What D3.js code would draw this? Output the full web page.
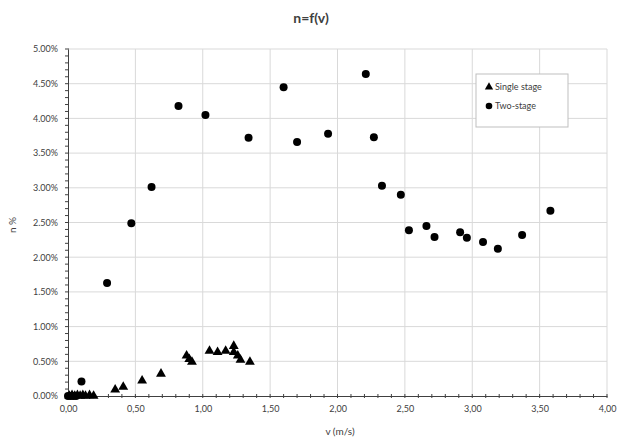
<!DOCTYPE html>
<html>
<head>
<meta charset="utf-8">
<script src="https://cdn.jsdelivr.net/npm/d3@7"></script>
<style>
body { margin: 0; background: #fff; }
text { font-family: Lato, "Open Sans", sans-serif; fill: #404040; }
</style>
</head>
<body>
<div id="chart"></div>
<script>
// data (v in m/s, n in %)
var singleV = [0.01, 0.03, 0.05, 0.07, 0.09, 0.11, 0.13, 0.16, 0.19, 0.35, 0.41, 0.55, 0.69, 0.88, 0.90, 0.92, 1.05, 1.11, 1.17, 1.23, 1.23, 1.26, 1.28, 1.35];
var singleN = [0.00, 0.01, 0.00, 0.01, 0.00, 0.01, 0.00, 0.01, 0.00, 0.09, 0.13, 0.22, 0.32, 0.58, 0.53, 0.49, 0.65, 0.63, 0.65, 0.72, 0.63, 0.58, 0.52, 0.49];
var twoV = [0.00, 0.02, 0.04, 0.06, 0.10, 0.29, 0.47, 0.62, 0.82, 1.02, 1.34, 1.60, 1.70, 1.93, 2.21, 2.27, 2.33, 2.47, 2.53, 2.66, 2.72, 2.91, 2.96, 3.08, 3.19, 3.37, 3.58];
var twoN = [0.00, 0.00, 0.00, 0.00, 0.21, 1.63, 2.49, 3.01, 4.18, 4.05, 3.72, 4.45, 3.66, 3.78, 4.64, 3.73, 3.03, 2.90, 2.39, 2.45, 2.29, 2.36, 2.28, 2.22, 2.12, 2.32, 2.67];
var xTicks = [0, 0.5, 1, 1.5, 2, 2.5, 3, 3.5, 4];
var yTicks = [0, 0.5, 1, 1.5, 2, 2.5, 3, 3.5, 4, 4.5, 5];
var legendNames = ["Single stage", "Two-stage"];

var width = 619, height = 440;
var margin = {top: 49, right: 12, bottom: 44, left: 68};

var svg = d3.select("#chart").append("svg")
	.attr("width", width)
	.attr("height", height);

var x = d3.scaleLinear().domain([0, 4]).range([margin.left, width - margin.right]);
var y = d3.scaleLinear().domain([0, 5]).range([height - margin.bottom, margin.top]);

// gridlines
svg.append("g").selectAll("line")
	.data(xTicks.slice(1))
	.join("line")
	.attr("x1", d => x(d)).attr("x2", d => x(d))
	.attr("y1", y(0)).attr("y2", y(5))
	.attr("stroke", "#d9d9d9");
svg.append("g").selectAll("line")
	.data(yTicks.slice(1))
	.join("line")
	.attr("x1", x(0)).attr("x2", x(4))
	.attr("y1", d => y(d)).attr("y2", d => y(d))
	.attr("stroke", "#d9d9d9");

// axes
var fmtX = d => d3.format(".2f")(d).replace(".", ",");
var xAxis = svg.append("g")
	.attr("transform", "translate(0," + y(0) + ")")
	.call(d3.axisBottom(x).tickValues(xTicks).tickFormat(fmtX).tickSize(0).tickPadding(10));
var yAxis = svg.append("g")
	.attr("transform", "translate(" + x(0) + ",0)")
	.call(d3.axisLeft(y).tickValues(yTicks).tickFormat(d => d3.format(".2f")(d) + "%").tickSize(0).tickPadding(10));
[xAxis, yAxis].forEach(function(a){
	a.select(".domain").attr("stroke", "#404040");
	a.selectAll("text").attr("font-size", 9).attr("fill", "#404040")
		.style("font-family", "Lato, 'Open Sans', sans-serif");
});

// minor ticks
svg.append("g").selectAll("line")
	.data(d3.range(0, 41).map(i => i / 10))
	.join("line")
	.attr("x1", d => x(d)).attr("x2", d => x(d))
	.attr("y1", y(0) - 2).attr("y2", y(0) + 2)
	.attr("stroke", "#404040");
svg.append("g").selectAll("line")
	.data(d3.range(0, 51).map(i => i / 10))
	.join("line")
	.attr("x1", x(0) - 3).attr("x2", x(0) + 1)
	.attr("y1", d => y(d)).attr("y2", d => y(d))
	.attr("stroke", "#404040");

// markers
var tri = d3.symbol().type(d3.symbolTriangle).size(42);
svg.append("g").selectAll("path")
	.data(d3.zip(singleV, singleN))
	.join("path")
	.attr("d", tri)
	.attr("transform", d => "translate(" + x(d[0]) + "," + y(d[1]) + ")")
	.attr("fill", "#000");

svg.append("g").selectAll("circle")
	.data(d3.zip(twoV, twoN))
	.join("circle")
	.attr("cx", d => x(d[0]))
	.attr("cy", d => y(d[1]))
	.attr("r", 4)
	.attr("fill", "#000");

// title and axis labels
svg.append("text")
	.attr("x", 311).attr("y", 23)
	.attr("text-anchor", "middle")
	.attr("font-size", 14).attr("font-weight", "bold")
	.text("n=f(v)");
svg.append("text")
	.attr("x", 340).attr("y", 435)
	.attr("text-anchor", "middle")
	.attr("font-size", 10)
	.text("v (m/s)");
svg.append("text")
	.attr("transform", "translate(16,225) rotate(-90)")
	.attr("text-anchor", "middle")
	.attr("font-size", 10)
	.text("n %");

// legend
var lg = svg.append("g").attr("transform", "translate(476,74)");
lg.append("rect")
	.attr("width", 92).attr("height", 53)
	.attr("fill", "#fff").attr("stroke", "#bfbfbf");
lg.append("path")
	.attr("d", d3.symbol().type(d3.symbolTriangle).size(30))
	.attr("transform", "translate(13,13)");
lg.append("circle").attr("cx", 13).attr("cy", 32).attr("r", 3.3);
lg.selectAll("text.leg")
	.data(legendNames)
	.join("text")
	.attr("class", "leg")
	.attr("x", 19).attr("y", (d, i) => 16 + i * 19)
	.attr("font-size", 9)
	.text(d => d);
</script>
</body>
</html>
